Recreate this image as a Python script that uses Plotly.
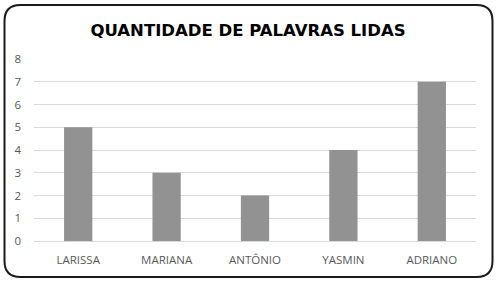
import plotly.graph_objects as go

categories = ["LARISSA", "MARIANA", "ANTÔNIO", "YASMIN", "ADRIANO"]
values = [5, 3, 2, 4, 7]
title_text = "QUANTIDADE DE PALAVRAS LIDAS"

W, H = 496, 281
ml, mr, mt, mb = 34, 20, 59, 40
pw, ph = W - ml - mr, H - mt - mb

def px(x):
    return (x - ml) / pw

def py(y):
    return (H - mb - y) / ph

# rounded border path in paper coords
x0, x1, y0, y1, r = 4.5, 492.5, 5, 277, 16
path = (
    f"M {px(x0 + r)} {py(y0)} L {px(x1 - r)} {py(y0)} "
    f"Q {px(x1)} {py(y0)} {px(x1)} {py(y0 + r)} "
    f"L {px(x1)} {py(y1 - r)} Q {px(x1)} {py(y1)} {px(x1 - r)} {py(y1)} "
    f"L {px(x0 + r)} {py(y1)} Q {px(x0)} {py(y1)} {px(x0)} {py(y1 - r)} "
    f"L {px(x0)} {py(y0 + r)} Q {px(x0)} {py(y0)} {px(x0 + r)} {py(y0)} Z"
)

fig = go.Figure(go.Bar(x=categories, y=values, marker=dict(color="#929292", line=dict(width=0))))

fig.update_layout(
    width=W, height=H,
    margin=dict(l=ml, r=mr, t=mt, b=mb),
    paper_bgcolor="white", plot_bgcolor="white",
    bargap=0.68,
    showlegend=False,
    title=dict(text=title_text, x=0.5, xanchor="center", y=1 - 30 / H, yanchor="middle",
               font=dict(family="DejaVu Sans", size=16.5, color="black", weight="bold")),
    xaxis=dict(showgrid=False, showline=False, ticks="",
               ticklabelstandoff=10,
               tickfont=dict(family="Open Sans", size=11.5, color="#595959")),
    yaxis=dict(range=[0, 8], dtick=1, showgrid=True, gridcolor="#d9d9d9", gridwidth=1,
               zeroline=True, zerolinecolor="#d9d9d9", zerolinewidth=1, showline=False, ticks="",
               ticklabelstandoff=12,
               tickfont=dict(family="Open Sans", size=11.5, color="#595959")),
    shapes=[dict(type="path", xref="paper", yref="paper", path=path,
                 line=dict(color="#1a1a1a", width=2), fillcolor="rgba(0,0,0,0)", layer="above")],
)

fig.write_html("out.html")
